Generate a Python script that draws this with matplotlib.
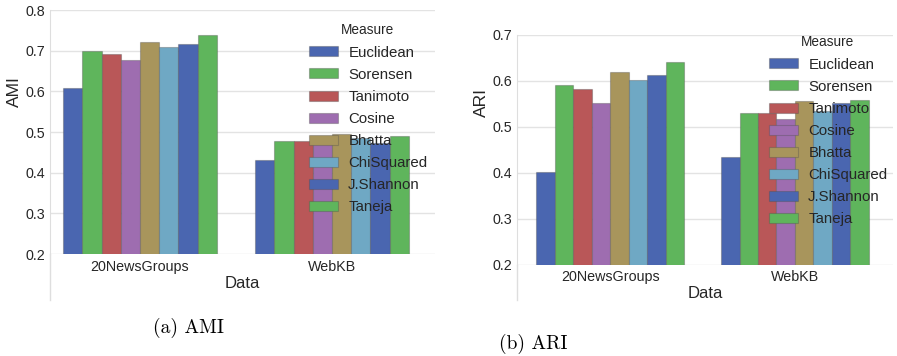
import matplotlib
matplotlib.use("Agg")
import matplotlib.pyplot as plt
import numpy as np

datasets = ["20NewsGroups", "WebKB"]
measures = ["Euclidean", "Sorensen", "Tanimoto", "Cosine",
            "Bhatta", "ChiSquared", "J.Shannon", "Taneja"]

# AMI per measure: [20NewsGroups, WebKB]
ami = {
    "Euclidean":  [0.607, 0.432],
    "Sorensen":   [0.698, 0.478],
    "Tanimoto":   [0.691, 0.479],
    "Cosine":     [0.678, 0.478],
    "Bhatta":     [0.722, 0.496],
    "ChiSquared": [0.708, 0.485],
    "J.Shannon":  [0.716, 0.474],
    "Taneja":     [0.738, 0.490],
}

# ARI per measure: [20NewsGroups, WebKB]
ari = {
    "Euclidean":  [0.401, 0.435],
    "Sorensen":   [0.591, 0.531],
    "Tanimoto":   [0.582, 0.530],
    "Cosine":     [0.551, 0.517],
    "Bhatta":     [0.619, 0.557],
    "ChiSquared": [0.601, 0.534],
    "J.Shannon":  [0.612, 0.551],
    "Taneja":     [0.641, 0.559],
}

colors = ["#4a66b0", "#5fb55c", "#b95758", "#9e6db0", "#a8955c", "#6fa8c4",
          "#4a66b0", "#5fb55c"]

W, H = 897, 356
plt.rcParams["font.family"] = ["Liberation Sans", "DejaVu Sans"]
fig = plt.figure(figsize=(W / 100, H / 100), dpi=100)


def fbox(x0, y0, x1, y1):
    # pixel box -> figure fraction [left, bottom, width, height]
    return [x0 / W, 1 - y1 / H, (x1 - x0) / W, (y1 - y0) / H]


def panel(rect, data, ylab, yticks, xlim, spine_ext, leg_xy, ylab_xy, xlab_xy):
    ax = fig.add_axes(rect)
    x = np.arange(len(datasets))
    bw = 0.1
    for i, m in enumerate(measures):
        ax.bar(x - 0.4 + bw * (i + 0.5), data[m], bw, bottom=0,
               color=colors[i], edgecolor=(0.3, 0.3, 0.3, 0.35),
               linewidth=0.8, label=m, zorder=2)
    ax.set_ylim(yticks[0], yticks[-1])
    ax.set_yticks(yticks)
    ax.set_yticklabels(["%.1f" % t for t in yticks])
    ax.set_xlim(*xlim)
    ax.set_xticks(x)
    ax.set_xticklabels(datasets)
    ax.tick_params(length=0, labelsize=10.3, colors="#262626", pad=4)
    ax.tick_params(axis="y", pad=3.5)
    ax.grid(axis="y", color="#e3e3e3", linewidth=1, zorder=0)
    ax.set_axisbelow(True)
    for s in ["top", "right", "bottom"]:
        ax.spines[s].set_visible(False)
    ax.spines["left"].set_color("#dedede")
    ax.plot([0, 0], [0, -spine_ext], transform=ax.transAxes, clip_on=False,
            color="#dedede", linewidth=1)
    ax.set_ylabel(ylab, fontsize=12.5, color="#262626")
    ax.yaxis.set_label_coords(*ylab_xy)
    ax.set_xlabel("Data", fontsize=12, color="#262626")
    ax.xaxis.set_label_coords(*xlab_xy)
    leg = ax.legend(title="Measure", loc="upper left", frameon=False,
                    bbox_to_anchor=(leg_xy[0] / W, 1 - leg_xy[1] / H),
                    bbox_transform=fig.transFigure, fontsize=10.8,
                    title_fontsize=9.8, handlelength=1.95, handleheight=0.65,
                    handletextpad=0.7, labelspacing=0.54, borderpad=0.4)
    for t in leg.get_texts():
        t.set_color("#262626")
    leg.get_title().set_color("#262626")
    return ax


panel(fbox(50, 10, 435, 254), ami, "AMI",
      [0.2, 0.3, 0.4, 0.5, 0.6, 0.7, 0.8], (-0.469, 1.536), 0.1885,
      (295, 10), (-0.072, 0.664), (0.5, -0.09))
panel(fbox(517, 35, 893, 264.7), ari, "ARI",
      [0.2, 0.3, 0.4, 0.5, 0.6, 0.7], (-0.5055, 1.531), 0.154,
      (755, 22), (-0.075, 0.704), (0.5, -0.093))

fig.text(188 / W, 1 - 328 / H, "(a) AMI", family="cmr10", fontsize=14,
         ha="center", va="center")
fig.text(533 / W, 1 - 344 / H, "(b) ARI", family="cmr10", fontsize=14,
         ha="center", va="center")

fig.savefig("out.png", dpi=100)
